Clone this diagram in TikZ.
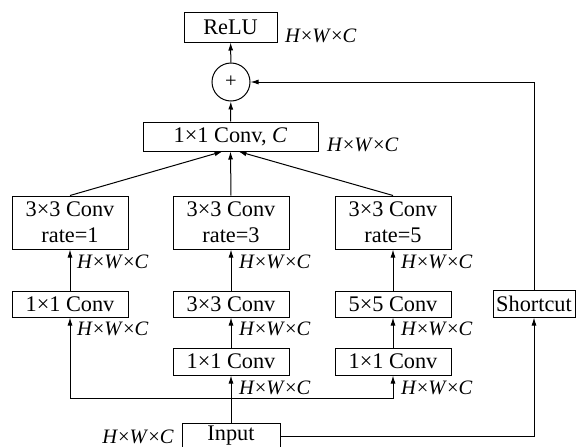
\documentclass[tikz,border=0pt]{standalone}
\usepackage{fontspec}
\setmainfont{Liberation Serif}
\usetikzlibrary{arrows.meta,calc}
\begin{document}
\begin{tikzpicture}[x=1pt,y=-1pt,
  every node/.style={font=\fontsize{20.5}{26}\selectfont},
  box/.style={draw,line width=1pt,inner sep=0pt,align=center,minimum width=116pt,minimum height=26pt,font=\fontsize{22.3}{26}\selectfont},
  tall/.style={box,minimum height=53pt},
  lab/.style={anchor=base west,inner sep=0pt},
  arr/.style={line width=1pt,-{Latex[length=8pt,width=5pt]}},
  ln/.style={line width=1pt}]
\useasboundingbox (0,0) rectangle (576,447);
\newcommand{\hwc}{\textit{H}×\textit{W}×\textit{C}}
% nodes
\node[box,minimum width=93pt,minimum height=30pt] (relu) at (230.5,27) {ReLU};
\node[draw,circle,line width=1pt,minimum size=38pt,inner sep=0pt] (plus) at (231,82) {+};
\node[box,minimum width=175pt,minimum height=29pt] (convc) at (230.5,136.5) {1×1 Conv, \textit{C}};
\node[tall] (r1a) at (70,222.5) {3×3 Conv\\rate=1};
\node[tall] (r1b) at (231,222.5) {3×3 Conv\\rate=3};
\node[tall] (r1c) at (393,222.5) {3×3 Conv\\rate=5};
\node[box] (r2a) at (70,304) {1×1 Conv};
\node[box] (r2b) at (231,304) {3×3 Conv};
\node[box] (r2c) at (393,304) {5×5 Conv};
\node[box,minimum width=82pt,minimum height=27pt] (sc) at (534,303.5) {Shortcut};
\node[box,minimum height=27pt] (r3b) at (231,361.5) {1×1 Conv};
\node[box,minimum height=27pt] (r3c) at (393,361.5) {1×1 Conv};
\node[box,minimum width=98pt,minimum height=26pt] (input) at (231,436) {Input};
\coordinate (jn) at (231,398);
% labels
\node[lab] (l0) at (285,42) {\hwc};
\node[lab] (l1) at (327,151) {\hwc};
\node[lab] (l2) at (77,268) {\hwc};
\node[lab] (l3) at (239,268) {\hwc};
\node[lab] (l4) at (401,268) {\hwc};
\node[lab] (l5) at (77,335) {\hwc};
\node[lab] (l6) at (239,335) {\hwc};
\node[lab] (l7) at (401,335) {\hwc};
\node[lab] (l8) at (239,394) {\hwc};
\node[lab] (l9) at (401,394) {\hwc};
\node[anchor=base east,inner sep=0pt] (l10) at (174,443) {\hwc};
% connectors
\draw[arr] (plus) -- (relu);
\draw[arr] (convc) -- (plus);
\draw[arr] (r1a.north) -- ([xshift=-8pt]convc.south);
\draw[arr] (r1b.north) -- (convc.south);
\draw[arr] (r1c.north) -- ([xshift=8pt]convc.south);
\draw[arr] (r2a) -- (r1a);
\draw[arr] (r2b) -- (r1b);
\draw[arr] (r2c) -- (r1c);
\draw[arr] (r3b) -- (r2b);
\draw[arr] (r3c) -- (r2c);
\draw[arr] (input) -- (r3b);
\draw[arr] (jn) -| (r2a.south);
\draw[arr] (jn) -| (r3c.south);
\draw[arr] (input.east) -| (sc.south);
\draw[arr] (sc.north) |- (plus.east);
\end{tikzpicture}
\end{document}
